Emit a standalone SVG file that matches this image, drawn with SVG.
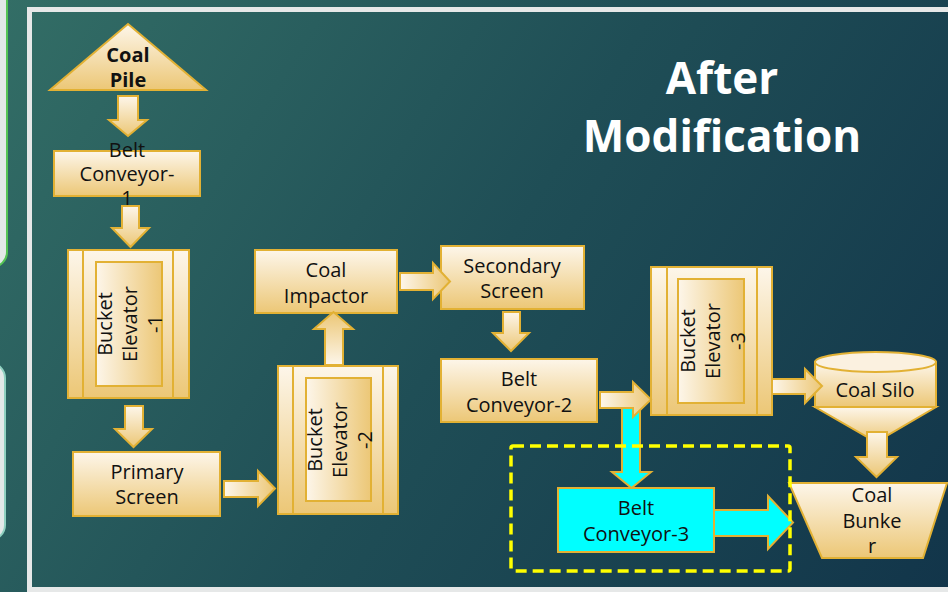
<svg xmlns="http://www.w3.org/2000/svg" width="948" height="592" viewBox="0 0 948 592">
  <defs>
    <linearGradient id="bg" x1="0" y1="0" x2="948" y2="592" gradientUnits="userSpaceOnUse">
      <stop offset="0" stop-color="#336e66"/>
      <stop offset="0.5" stop-color="#1f4e56"/>
      <stop offset="1" stop-color="#12354a"/>
    </linearGradient>
    <linearGradient id="gV" x1="0" y1="0" x2="0" y2="1">
      <stop offset="0" stop-color="#fdf6ea"/>
      <stop offset="1" stop-color="#ecc776"/>
    </linearGradient>
    <linearGradient id="gH" x1="0" y1="0" x2="1" y2="0">
      <stop offset="0" stop-color="#fdf6ea"/>
      <stop offset="1" stop-color="#ecc776"/>
    </linearGradient>
    <linearGradient id="gU" x1="0" y1="1" x2="0" y2="0">
      <stop offset="0" stop-color="#fdf6ea"/>
      <stop offset="1" stop-color="#ecc776"/>
    </linearGradient>
  </defs>
  <style>
    .box { fill: url(#gV); stroke: #e2b134; stroke-width: 2; }
    .inner { fill: url(#gH); stroke: #e2b134; stroke-width: 2; }
    .line { stroke: #e2b134; stroke-width: 2; }
    .cyan { fill: #00ffff; stroke: #e2b134; stroke-width: 2; }
    .ad { fill: url(#gV); stroke: #e2b134; stroke-width: 2; stroke-linejoin: miter; }
    .ar { fill: url(#gH); stroke: #e2b134; stroke-width: 2; }
    .au { fill: url(#gU); stroke: #e2b134; stroke-width: 2; }
    .ac { fill: #00ffff; stroke: #e2b134; stroke-width: 2; }
    text { font-family: "Open Sans", "Liberation Sans", sans-serif; font-size: 20px; fill: #111; text-anchor: middle; }
    .bold { font-weight: bold; }
    .title { font-size: 44px; font-weight: bold; fill: #ffffff; }
  </style>

  <rect x="0" y="0" width="948" height="592" fill="url(#bg)"/>
  <rect x="-30" y="-20" width="37" height="287" rx="15" fill="#e3e8e8" stroke="#55c455" stroke-width="2"/>
  <rect x="-30" y="363" width="35" height="177" rx="15" fill="#e3e8e8" stroke="#8fd0c0" stroke-width="2"/>
  <rect x="29.5" y="9.5" width="940" height="580" fill="none" stroke="#e6e8e8" stroke-width="5"/>

  <text class="title" x="722" y="94">After</text>
  <text class="title" x="722" y="152">Modification</text>

  <g id="coal-pile">
    <polygon class="box" points="128,24 206,90 50,90"/>
    <text class="bold" x="128" y="62">Coal</text>
    <text class="bold" x="128" y="87">Pile</text>
  </g>
  <g id="belt-conveyor-1">
    <rect class="box" x="54" y="151" width="146" height="45"/>
    <text x="127" y="157">Belt</text>
    <text x="127" y="181">Conveyor-</text>
    <text x="127" y="205">1</text>
  </g>
  <g id="bucket-elevator-1">
    <rect class="box" x="68" y="250" width="121" height="148"/>
    <line class="line" x1="83" y1="250" x2="83" y2="398"/>
    <line class="line" x1="173" y1="250" x2="173" y2="398"/>
    <rect class="inner" x="96" y="262" width="66" height="124"/>
    <g transform="translate(128.5,324) rotate(-90)">
      <text x="0" y="-16.5">Bucket</text>
      <text x="0" y="8.5">Elevator</text>
      <text x="0" y="33.5">-1</text>
    </g>
  </g>
  <g id="primary-screen">
    <rect class="box" x="73" y="452" width="147" height="64"/>
    <text x="147" y="479">Primary</text>
    <text x="147" y="504">Screen</text>
  </g>
  <g id="bucket-elevator-2">
    <rect class="box" x="278" y="366" width="120" height="148"/>
    <line class="line" x1="293" y1="366" x2="293" y2="514"/>
    <line class="line" x1="383" y1="366" x2="383" y2="514"/>
    <rect class="inner" x="306" y="378" width="65" height="123"/>
    <g transform="translate(338,440) rotate(-90)">
      <text x="0" y="-16.5">Bucket</text>
      <text x="0" y="8.5">Elevator</text>
      <text x="0" y="33.5">-2</text>
    </g>
  </g>
  <g id="coal-impactor">
    <rect class="box" x="255" y="250" width="142" height="63"/>
    <text x="326" y="277">Coal</text>
    <text x="326" y="303">Impactor</text>
  </g>
  <g id="secondary-screen">
    <rect class="box" x="441" y="246" width="143" height="63"/>
    <text x="512" y="273">Secondary</text>
    <text x="512" y="298">Screen</text>
  </g>
  <g id="belt-conveyor-2">
    <rect class="box" x="441" y="359" width="156" height="63"/>
    <text x="519" y="386">Belt</text>
    <text x="519" y="412">Conveyor-2</text>
  </g>
  <g id="bucket-elevator-3">
    <rect class="box" x="651" y="267" width="121" height="148"/>
    <line class="line" x1="667" y1="267" x2="667" y2="415"/>
    <line class="line" x1="757" y1="267" x2="757" y2="415"/>
    <rect class="inner" x="678" y="279" width="66" height="124"/>
    <g transform="translate(711.5,341) rotate(-90)">
      <text x="0" y="-16.5">Bucket</text>
      <text x="0" y="8.5">Elevator</text>
      <text x="0" y="33.5">-3</text>
    </g>
  </g>
  <g id="coal-silo">
    <polygon class="box" points="815,407 936,407 876,442"/>
    <path class="box" d="M815,362 L815,407 L936,407 L936,362 Z"/>
    <ellipse cx="875.5" cy="362" rx="60.5" ry="10" fill="#fbf1e0" stroke="#e2b134" stroke-width="2"/>
    <text x="875" y="397">Coal Silo</text>
  </g>
  <g id="coal-bunker">
    <polygon class="box" points="789,483 947,483 923,558 822,558"/>
    <text x="872" y="502">Coal</text>
    <text x="872" y="528">Bunke</text>
    <text x="872" y="553">r</text>
  </g>
  <g id="belt-conveyor-3">
    <rect class="cyan" x="558" y="488" width="156" height="64"/>
    <text x="636" y="515">Belt</text>
    <text x="636" y="541">Conveyor-3</text>
  </g>

  <g id="connectors">
    <polygon class="ad" points="118,96 138,96 138,120 147,120 128,136 109,120 118,120"/>
    <polygon class="ad" points="122,206 139,206 139,228 149,228 130.5,247 112,228 122,228"/>
    <polygon class="ad" points="125,406 143,406 143,429 152,429 133.5,447 115,429 125,429"/>
    <polygon class="ar" points="224,481 258,481 258,471 275,488.5 258,506 258,497 224,497"/>
    <polygon class="au" points="325,365 325,329 314,329 333.5,312 353,329 343,329 343,365"/>
    <polygon class="ar" points="400,273 433,273 433,263 450,281.5 433,299 433,290 400,290"/>
    <polygon class="ad" points="503,312 520,312 520,333 529,333 511,351 493,333 503,333"/>
    <polygon class="ac" points="622,406 640,406 640,472 651,472 631.5,488 612,472 622,472"/>
    <polygon class="ar" points="600,392 633,392 633,382 651,399.5 633,417 633,408 600,408"/>
    <polygon class="ar" points="772,379 805,379 805,369 822,386 805,403 805,394 772,394"/>
    <polygon class="ad" points="867,432 887,432 887,457 897,457 876.5,477 856,457 867,457"/>
    <polygon class="ac" points="714,510 768,510 768,496 793,522.5 768,549 768,536 714,536"/>
  </g>

  <rect x="511" y="446" width="279" height="125" rx="2" fill="none" stroke="#ffff00" stroke-width="3.5" stroke-dasharray="11,6"/>
</svg>
